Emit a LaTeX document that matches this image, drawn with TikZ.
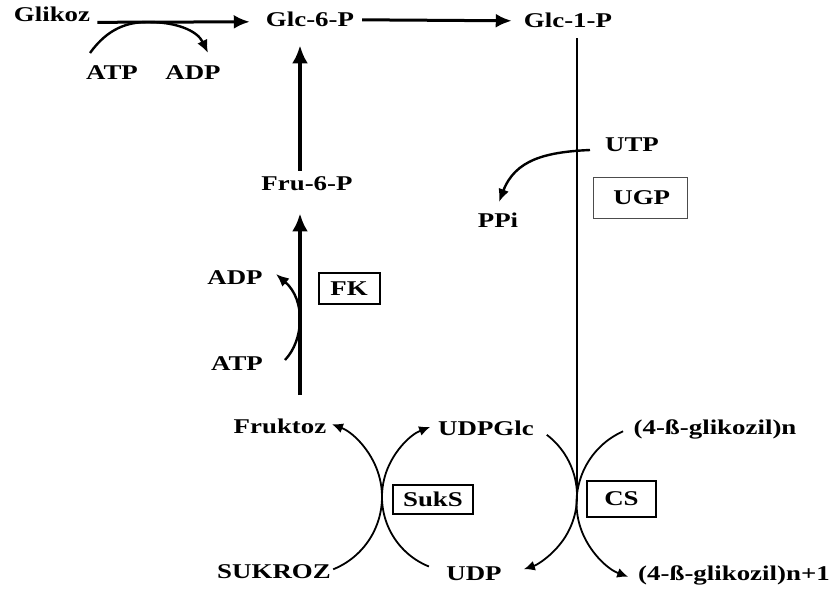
\documentclass[tikz,border=0pt]{standalone}
\usepackage{fontspec}
\setmainfont{Liberation Serif}[FakeStretch=1.28]
\usetikzlibrary{arrows.meta}
\begin{document}
\begin{tikzpicture}[x=1pt,y=-1pt,
  lbl/.style={font=\bfseries\fontsize{21}{25}\selectfont, inner sep=0pt, anchor=base},
  enzyme/.style={draw, font=\bfseries\fontsize{21}{25}\selectfont, inner sep=0pt},
  mainarr/.style={line width=4pt, -{Latex[length=18pt,width=16pt]}},
  toparr/.style={line width=3pt, -{Latex[length=16pt,width=14pt]}},
  sidearr/.style={line width=2.4pt, -{Latex[length=13pt,width=11pt]}},
  arcarr/.style={line width=1.8pt, -{Latex[length=11pt,width=10pt]}},
  thinline/.style={line width=1.8pt},
]
\useasboundingbox (0,0) rectangle (833,594);

% metabolites
\node[lbl] (glikoz) at (52,22)  {Glikoz};
\node[lbl] (glc6p)  at (310,27) {Glc-6-P};
\node[lbl] (glc1p)  at (568,28) {Glc-1-P};
\node[lbl] (atpA)   at (112,80) {ATP};
\node[lbl] (adpA)   at (193,80) {ADP};
\node[lbl] (fru6p)  at (307,190) {Fru-6-P};
\node[lbl] (utp)    at (632,151) {UTP};
\node[lbl] (ppi)    at (498,227) {PPi};
\node[lbl] (adpB)   at (235,284) {ADP};
\node[lbl] (atpB)   at (237,370) {ATP};
\node[lbl] (fruktoz) at (280,433) {Fruktoz};
\node[lbl] (udpglc) at (486,435) {UDPGlc};
\node[lbl] (glikn)  at (715,434) {(4-ß-glikozil)n};
\node[lbl] (sukroz) at (274,578) {SUKROZ};
\node[lbl] (udp)    at (474,580) {UDP};
\node[lbl] (gliknp) at (734,580) {(4-ß-glikozil)n+1};

% enzymes
\node[enzyme, line width=0.9pt, draw=black!70, minimum width=94pt, minimum height=41pt] (ugp) at (640,197.5) {\,UGP};
\node[enzyme, line width=2pt, minimum width=61pt, minimum height=31pt] (fk) at (349,288.5) {FK};
\node[enzyme, line width=2pt, minimum width=80pt, minimum height=29pt] (suks) at (433,499.5) {SukS};
\node[enzyme, line width=2.4pt, minimum width=69pt, minimum height=36pt] (cs) at (621.5,499) {CS};

% main pathway
\draw[toparr] ([shift={(7,7.5)}]glikoz.east) -- ([shift={(-16,2)}]glc6p.west);
\draw[toparr] ([shift={(8,0)}]glc6p.east) -- ([shift={(-12,0)}]glc1p.west);
\draw[mainarr] ([shift={(-7,-5)}]fru6p.north) -- ([shift={(-10,18)}]glc6p.south);
\draw[mainarr] ([shift={(20,-23)}]fruktoz.north) -- ([shift={(-7,23)}]fru6p.south);
\coordinate (cstouch) at (577,490);
\draw[thinline] ([shift={(9,10)}]glc1p.south) -- (cstouch);

% co-substrates
\coordinate (hkS) at (90,53);
\coordinate (hkE) at (208,53);
\draw[sidearr] (hkS) .. controls (108,28) and (128,22) .. (148,22)
               .. controls (175,22) and (197,30) .. (hkE);
\coordinate (fkS) at (285,360);
\coordinate (fkE) at (276,274);
\draw[sidearr] (fkS) .. controls (304,340) and (306,300) .. (fkE);
\coordinate (ugpS) at (590,150);
\coordinate (ugpE) at (499,202);
\draw[sidearr] (ugpS) .. controls (545,152) and (515,160) .. (ugpE);

% sucrose synthase
\coordinate (sukS) at (333.2,569.3);
\draw[arcarr] (sukS) arc[start angle=-68, end angle=69, radius=78pt];
\coordinate (udpS) at (428.9,566.5);
\draw[arcarr] (udpS) arc[start angle=248, end angle=111, radius=75pt];

% cellulose synthase
\coordinate (glcS) at (546.8,434.8);
\draw[arcarr] (glcS) arc[start angle=52.6, end angle=-72, radius=77pt];
\coordinate (polyS) at (623.1,431.3);
\draw[arcarr] (polyS) arc[start angle=114, end angle=250, radius=78.5pt];
\end{tikzpicture}
\end{document}
